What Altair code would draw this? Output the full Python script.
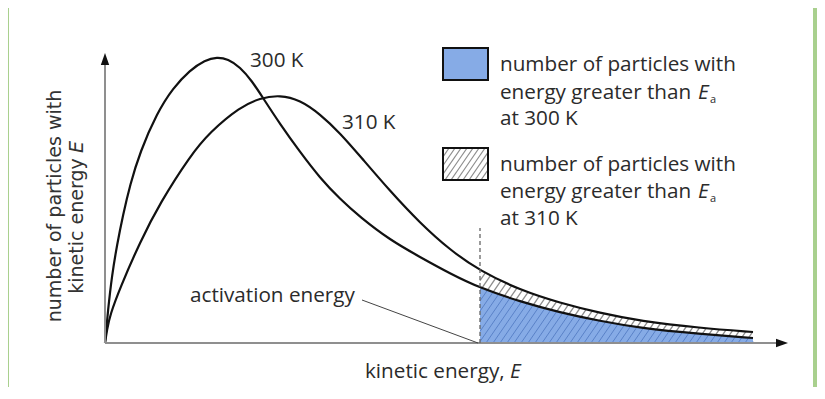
import altair as alt
import pandas as pd
import numpy as np

# ---------------- data (arbitrary units) ----------------
E300 = [0, 3, 7, 12, 18, 25, 35, 52, 68, 85, 100, 112, 123, 135, 147, 158, 175, 195,
        215, 235, 255, 285, 315, 345, 375, 415, 455, 495, 535, 595, 648]
N300 = [0, 33, 68, 98, 128, 158, 191, 230, 255, 273, 283, 286, 284, 276, 262, 245, 219,
        191, 165, 144, 126, 103, 86, 69.5, 55, 41.5, 30.5, 22, 15, 9, 5]
E310 = [0, 2, 5, 15, 35, 55, 85, 105, 135, 155, 175, 195, 215, 235, 255, 285, 315, 345,
        375, 415, 455, 495, 535, 595, 648]
N310 = [0, 13, 28, 55, 101, 140, 187, 211, 236, 245, 248, 243, 229, 210, 187, 152, 120,
        93, 72, 53, 40, 30, 22, 15, 11]
EA = 375            # activation energy
EMAX = 648          # end of drawn curves

# ---------------- layout (pixels) ----------------
PX0, PY0 = 105, 343     # page position of the origin
OFF, W, H = 8, 809, 379


def ex(px):
    return px - PX0


def ny(py):
    return PY0 - py


xs = alt.Scale(domain=[ex(OFF), ex(OFF + W)], nice=False, zero=False)
ys = alt.Scale(domain=[ny(OFF + H), ny(OFF)], nice=False, zero=False)


def X(f="x"):
    return alt.X(f"{f}:Q", scale=xs, axis=None)


def Y(f="y"):
    return alt.Y(f"{f}:Q", scale=ys, axis=None)


TXT = "#2b2b2b"
BLUE = "#86abe6"
FONT = "Open Sans"
FS = 20.7
INTERP = "basis"

# ---------------- background panel ----------------
panel = alt.Chart(pd.DataFrame({"x": [ex(9)], "x2": [ex(813)], "y": [ny(0)], "y2": [ny(420)]})).mark_rect(
    color="white").encode(x=X(), x2="x2:Q", y=Y(), y2="y2:Q")

# ---------------- curves ----------------
d300 = pd.DataFrame({"x": E300, "y": N300})
d310 = pd.DataFrame({"x": E310, "y": N310})
shade = d300[d300.x >= EA]
blue_area = alt.Chart(shade).mark_area(color=BLUE, interpolate=INTERP).encode(
    x=X(), y=Y(), y2=alt.datum(0))

# hatch lines inside the region under the 310 K curve beyond Ea
m = 1.45
step = 7.0


def H3(u):
    return np.interp(u, E300, N300)


def H31(u):
    return np.interp(u, E310, N310)


low, up = [], []
for c in np.arange(EA - 400, EMAX, step):
    us = max(c, EA)
    hs = (us - c) * m
    if hs >= H31(us) or us >= EMAX:
        continue
    g = np.linspace(us, EMAX, 800)
    hl = (g - c) * m
    k = np.where(hl - H31(g) >= 0)[0]
    ue = g[k[0]] if len(k) else EMAX
    he = (ue - c) * m
    if hs < H3(us):
        k2 = np.where(hl - H3(g) >= 0)[0]
        um = g[k2[0]] if len(k2) else EMAX
        um = min(um, ue)
        hm = (um - c) * m
        low.append((us, hs, um, hm))
        if um < ue:
            up.append((um, hm, ue, he))
    else:
        up.append((us, hs, ue, he))

hl_df = pd.DataFrame(low, columns=["x", "y", "x2", "y2"])
hu_df = pd.DataFrame(up, columns=["x", "y", "x2", "y2"])
hatch_low = alt.Chart(hl_df).mark_rule(color="#5a82c8", strokeWidth=1).encode(
    x=X(), y=Y(), x2="x2:Q", y2="y2:Q")
hatch_up = alt.Chart(hu_df).mark_rule(color="#8d8d8d", strokeWidth=1.3).encode(
    x=X(), y=Y(), x2="x2:Q", y2="y2:Q")

line300 = alt.Chart(d300).mark_line(color="#111", strokeWidth=2.2, interpolate=INTERP).encode(x=X(), y=Y())
line310 = alt.Chart(d310).mark_line(color="#111", strokeWidth=2.2, interpolate=INTERP).encode(x=X(), y=Y())

# ---------------- axes ----------------
axes_df = pd.DataFrame({"x": [0, 0], "y": [0, 0], "x2": [0, ex(777)], "y2": [ny(64), 0]})
axes = alt.Chart(axes_df).mark_rule(color="#8f8f8f", strokeWidth=2).encode(
    x=X(), y=Y(), x2="x2:Q", y2="y2:Q")
arr_up = alt.Chart(pd.DataFrame({"x": [0], "y": [ny(59)]})).mark_point(
    shape="M0,-1L0.7,1L-0.7,1Z", filled=True, color="#111", size=144, opacity=1).encode(x=X(), y=Y())
arr_rt = alt.Chart(pd.DataFrame({"x": [ex(782)], "y": [0]})).mark_point(
    shape="M1,0L-1,0.7L-1,-0.7Z", filled=True, color="#111", size=144, opacity=1).encode(x=X(), y=Y())

dash = alt.Chart(pd.DataFrame({"x": [EA], "y": [0], "y2": [ny(228)]})).mark_rule(
    color="#666", strokeWidth=1.3, strokeDash=[4, 3]).encode(x=X(), y=Y(), y2="y2:Q")
pointer = alt.Chart(pd.DataFrame({"x": [ex(362)], "y": [ny(300)], "x2": [EA - 2], "y2": [0]})).mark_rule(
    color="#444", strokeWidth=1).encode(x=X(), y=Y(), x2="x2:Q", y2="y2:Q")

# ---------------- legend boxes ----------------
b1 = pd.DataFrame({"x": [ex(443)], "x2": [ex(488)], "y": [ny(48)], "y2": [ny(80)]})
b2 = pd.DataFrame({"x": [ex(443)], "x2": [ex(488)], "y": [ny(148)], "y2": [ny(180)]})
box1 = alt.Chart(b1).mark_rect(fill=BLUE, stroke="#111", strokeWidth=2).encode(
    x=X(), x2="x2:Q", y=Y(), y2="y2:Q")
box2 = alt.Chart(b2).mark_rect(fill="white", stroke="#111", strokeWidth=2).encode(
    x=X(), x2="x2:Q", y=Y(), y2="y2:Q")
box2s = alt.Chart(b2).mark_rect(fill=None, stroke="#111", strokeWidth=2).encode(
    x=X(), x2="x2:Q", y=Y(), y2="y2:Q")
lh = []
bx0, bx1, by0, by1 = 443, 488, 148, 180
for c in np.arange(bx0 - 40, bx1, 6.0):
    a = max(c, bx0)
    b = min(c + (by1 - by0) / m, bx1)
    if b <= a:
        continue
    lh.append((ex(a), ny(by1 - (a - c) * m), ex(b), ny(by1 - (b - c) * m)))
lh_df = pd.DataFrame(lh, columns=["x", "y", "x2", "y2"])
leg_hatch = alt.Chart(lh_df).mark_rule(color="#8d8d8d", strokeWidth=1.2).encode(
    x=X(), y=Y(), x2="x2:Q", y2="y2:Q")

# ---------------- texts ----------------
labels = pd.DataFrame({
    "x": [ex(250), ex(342), ex(190), ex(365),
          ex(500), ex(500), ex(500), ex(500), ex(500), ex(500)],
    "y": [ny(61), ny(123), ny(296), ny(372),
          ny(65), ny(93), ny(119), ny(165), ny(192), ny(219)],
    "t": ["300 K", "310 K", "activation energy", "kinetic energy,",
          "number of particles with", "energy greater than", "at 300 K",
          "number of particles with", "energy greater than", "at 310 K"],
})
texts = alt.Chart(labels).mark_text(align="left", baseline="middle", font=FONT, fontSize=FS,
                                    color=TXT).encode(x=X(), y=Y(), text="t:N")
ital = pd.DataFrame({"x": [ex(510), ex(698), ex(698)], "y": [ny(372), ny(93), ny(192)], "t": ["E", "E", "E"]})
itexts = alt.Chart(ital).mark_text(align="left", baseline="middle", font=FONT, fontSize=FS,
                                   fontStyle="italic", color=TXT).encode(x=X(), y=Y(), text="t:N")
subs = pd.DataFrame({"x": [ex(710), ex(710)], "y": [ny(100), ny(199)], "t": ["a", "a"]})
stexts = alt.Chart(subs).mark_text(align="left", baseline="middle", font=FONT, fontSize=11,
                                   color=TXT).encode(x=X(), y=Y(), text="t:N")

ytitle = pd.DataFrame({"x": [ex(55), ex(77)], "y": [ny(206), ny(226)],
                       "t": ["number of particles with", "kinetic energy"]})
ytexts = alt.Chart(ytitle).mark_text(align="center", baseline="middle", font="DejaVu Sans", fontSize=19,
                                     angle=270, color="#333").encode(x=X(), y=Y(), text="t:N")
yE = alt.Chart(pd.DataFrame({"x": [ex(77)], "y": [ny(147)], "t": ["E"]})).mark_text(
    align="center", baseline="middle", font="DejaVu Sans", fontSize=19, fontStyle="italic",
    angle=270, color="#333").encode(x=X(), y=Y(), text="t:N")

chart = alt.layer(
    panel, blue_area, hatch_low, hatch_up, line300, line310, axes, arr_up, arr_rt,
    dash, pointer, box1, box2, leg_hatch, box2s, texts, itexts, stexts, ytexts, yE
).properties(
    width=W, height=H, background="#a9d08e", padding=0,
    autosize=alt.AutoSizeParams(type="none")
).configure_view(stroke=None)

chart.save("out.html", embed_options={"renderer": "svg", "actions": False})
